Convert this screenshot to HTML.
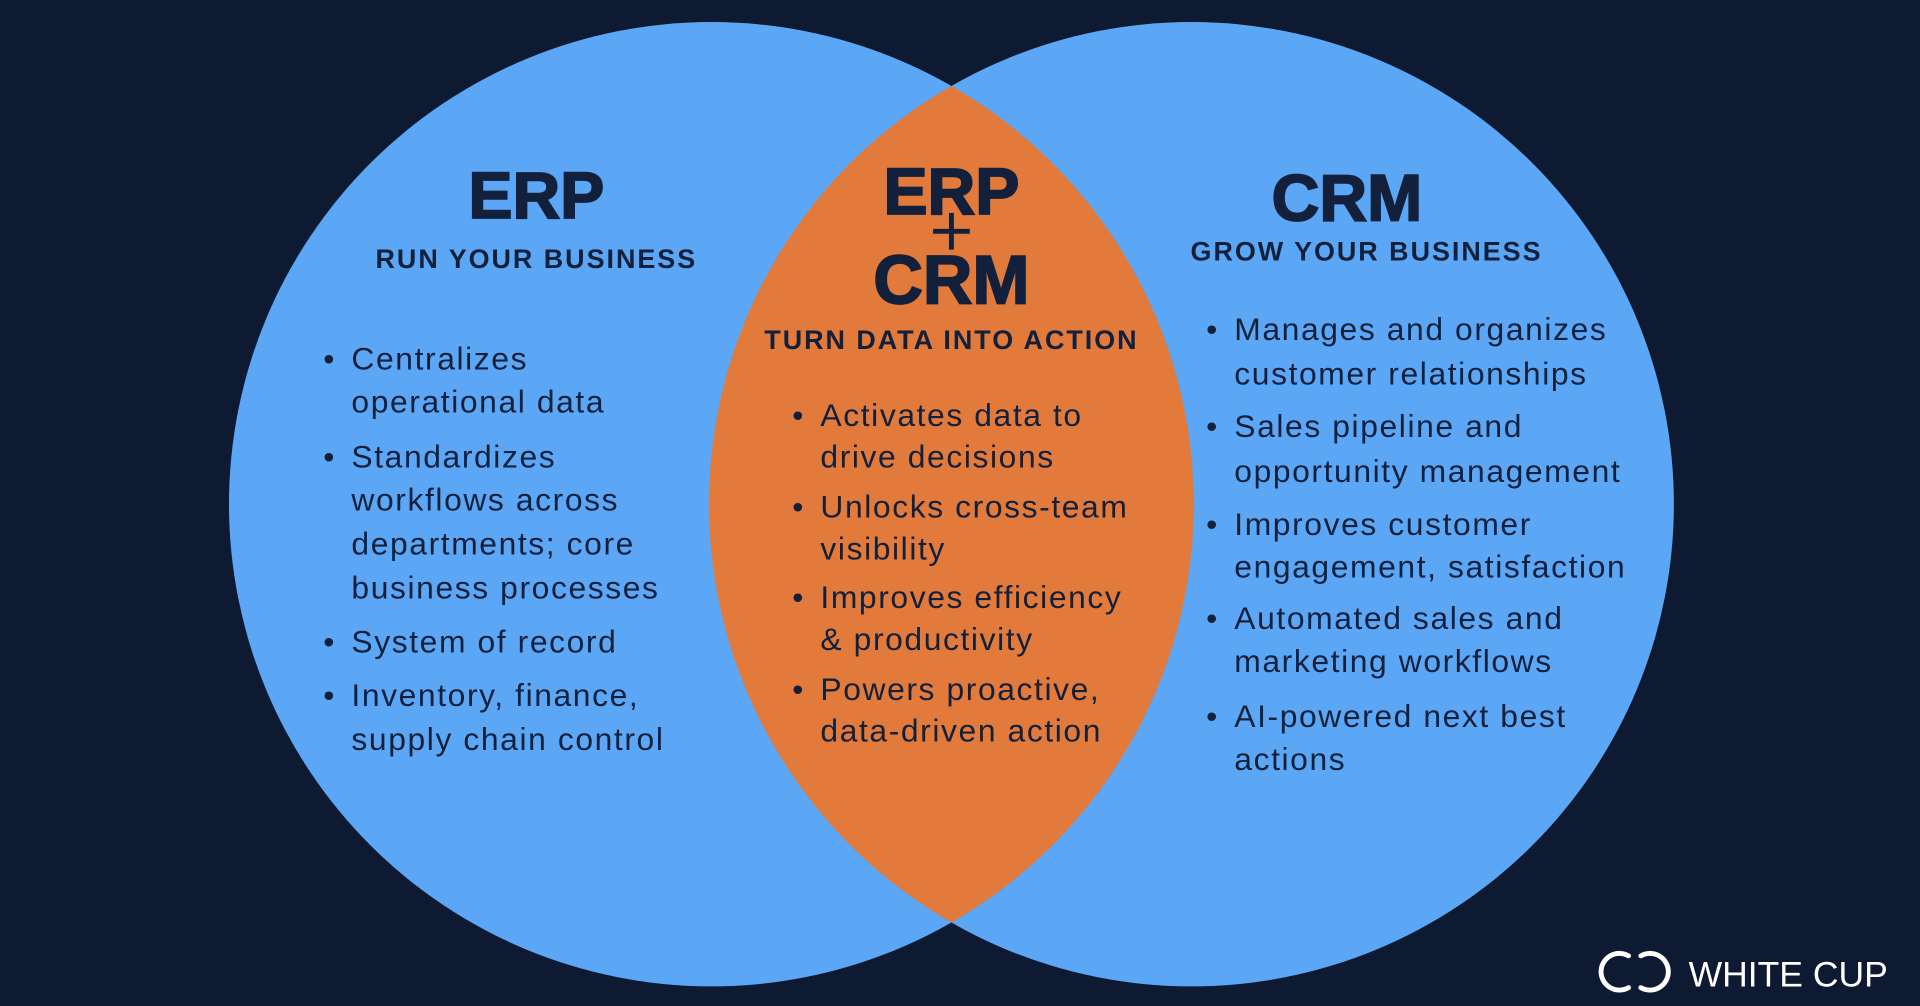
<!DOCTYPE html>
<html><head><style>
html,body{margin:0;padding:0;background:#0e1a31;width:1920px;height:1006px;overflow:hidden}
svg{display:block}
text{font-family:"Liberation Sans",sans-serif;fill:#13203b}
.t{font-weight:bold;text-anchor:middle}
.s{letter-spacing:1.6px}
.b{font-size:26px;letter-spacing:1.3px}
</style></head><body>
<svg width="1920" height="1006" viewBox="0 0 1568 822" preserveAspectRatio="none">
<rect width="1568" height="822" fill="#0e1a31"/>
<circle cx="581" cy="412" r="394" fill="#5ba7f6"/>
<circle cx="973" cy="412" r="394" fill="#5ba7f6"/>
<clipPath id="c"><circle cx="581" cy="412" r="394"/></clipPath>
<circle cx="973" cy="412" r="394" fill="#e27a3b" clip-path="url(#c)"/>

<text class="t" x="438" y="178" font-size="54" stroke="#13203b" stroke-width="1.5">ERP</text>
<text class="t s" x="438" y="219" font-size="22">RUN YOUR BUSINESS</text>
<g class="b">
<text x="264" y="302">•</text><text x="287" y="302">Centralizes</text>
<text x="287" y="337">operational data</text>
<text x="264" y="382">•</text><text x="287" y="382">Standardizes</text>
<text x="287" y="417">workflows across</text>
<text x="287" y="453">departments; core</text>
<text x="287" y="489">business processes</text>
<text x="264" y="533">•</text><text x="287" y="533">System of record</text>
<text x="264" y="577">•</text><text x="287" y="577">Inventory, finance,</text>
<text x="287" y="613">supply chain control</text>
</g>

<text class="t" x="777" y="175" font-size="54" stroke="#13203b" stroke-width="1.5">ERP</text>
<rect x="775" y="174" width="4" height="30" fill="#13203b"/>
<rect x="762" y="187" width="30" height="4" fill="#13203b"/>
<text class="t" x="777" y="248" font-size="56" stroke="#13203b" stroke-width="1.5">CRM</text>
<text class="t s" x="777" y="285" font-size="22">TURN DATA INTO ACTION</text>
<g class="b">
<text x="647" y="348">•</text><text x="670" y="348">Activates data to</text>
<text x="670" y="382">drive decisions</text>
<text x="647" y="423">•</text><text x="670" y="423">Unlocks cross-team</text>
<text x="670" y="457">visibility</text>
<text x="647" y="497">•</text><text x="670" y="497">Improves efficiency</text>
<text x="670" y="531">&amp; productivity</text>
<text x="647" y="572">•</text><text x="670" y="572">Powers proactive,</text>
<text x="670" y="606">data-driven action</text>
</g>

<text class="t" x="1100" y="180" font-size="54" stroke="#13203b" stroke-width="1.5">CRM</text>
<text class="t s" x="1116" y="213" font-size="22">GROW YOUR BUSINESS</text>
<g class="b">
<text x="985" y="278">•</text><text x="1008" y="278">Manages and organizes</text>
<text x="1008" y="314">customer relationships</text>
<text x="985" y="357">•</text><text x="1008" y="357">Sales pipeline and</text>
<text x="1008" y="394">opportunity management</text>
<text x="985" y="437">•</text><text x="1008" y="437">Improves customer</text>
<text x="1008" y="472">engagement, satisfaction</text>
<text x="985" y="514">•</text><text x="1008" y="514">Automated sales and</text>
<text x="1008" y="549">marketing workflows</text>
<text x="985" y="594">•</text><text x="1008" y="594">AI-powered next best</text>
<text x="1008" y="629">actions</text>
</g>

<path d="M1330 781 A15 15 0 1 0 1330 807" fill="none" stroke="#fff" stroke-width="4" stroke-linecap="round"/>
<path d="M1340 781 A15 15 0 1 1 1340 807" fill="none" stroke="#fff" stroke-width="4" stroke-linecap="round"/>
<text x="1379" y="806" font-size="29" style="fill:#fff">WHITE CUP</text>
</svg>
</body></html>
